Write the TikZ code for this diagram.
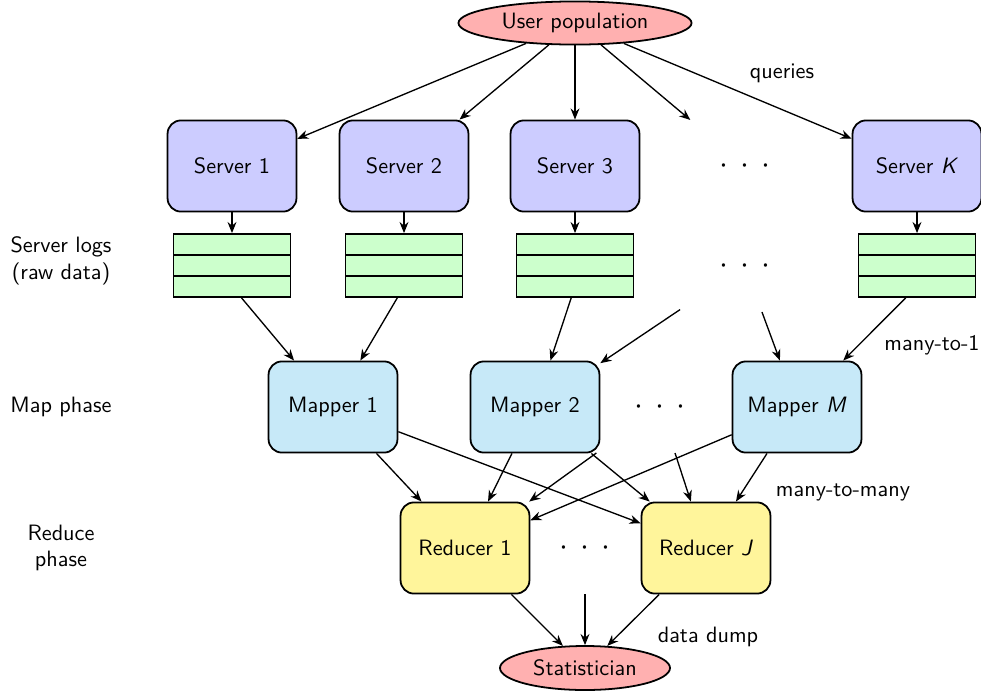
\documentclass[tikz,border=0pt]{standalone}
\usetikzlibrary{shapes.geometric,arrows.meta}
\definecolor{popfill}{RGB}{255,176,176}
\definecolor{srvfill}{RGB}{204,204,255}
\definecolor{logfill}{RGB}{204,255,204}
\definecolor{mapfill}{RGB}{199,233,248}
\definecolor{redfill}{RGB}{255,245,155}
\newcommand{\mydots}{{\Large$\cdot$\hspace{5.5pt}$\cdot$\hspace{5.5pt}$\cdot$}}
\begin{document}
\begin{tikzpicture}[x=0.45pt,y=-0.45pt,font=\sffamily,
  box/.style={rectangle,rounded corners=6pt,draw,line width=0.8pt,minimum width=58pt,minimum height=41pt,inner sep=0pt},
  srv/.style={box,fill=srvfill},
  mapbox/.style={box,fill=mapfill},
  redbox/.style={box,fill=redfill},
  ghost/.style={rectangle,minimum width=58pt,minimum height=41pt,inner sep=0pt},
  logrow/.style={rectangle,draw,line width=0.8pt,fill=logfill,minimum width=52.6pt,minimum height=9.45pt,inner sep=0pt},
  oval/.style={ellipse,draw,line width=0.8pt,fill=popfill,inner sep=0pt},
  arr/.style={-{Stealth[length=5pt,width=4pt]},line width=0.6pt},
  lbl/.style={align=center}]
\useasboundingbox (0,0) rectangle (981,690);
% top
\node[oval,minimum width=104.9pt,minimum height=19.4pt] (user) at (575,23) {User population};
% servers
\node[srv] (s1) at (232,166) {Server 1};
\node[srv] (s2) at (404,166) {Server 2};
\node[srv] (s3) at (575,166) {Server 3};
\node[ghost] (sd) at (745,166) {\mydots};
\node[srv] (sk) at (917,166) {Server \textit{K}};
% logs
\foreach \n/\x in {1/232,2/404,3/575,k/917}{
  \node[logrow] (l\n a) at (\x,244.5) {};
  \node[logrow] (l\n b) at (\x,265.5) {};
  \node[logrow] (l\n c) at (\x,286.5) {};
}
\node[ghost] (ld) at (745,266) {\mydots};
% mappers
\node[mapbox] (m1) at (333,407) {Mapper 1};
\node[mapbox] (m2) at (535,407) {Mapper 2};
\node[ghost] (md) at (660,407) {\mydots};
\node[mapbox] (mm) at (797,407) {Mapper \textit{M}};
% reducers
\node[redbox] (r1) at (465,548) {Reducer 1};
\node[ghost] (rd) at (585,548) {\mydots};
\node[redbox] (rj) at (706,548) {Reducer \textit{J}};
% bottom
\node[oval,minimum width=76.5pt,minimum height=19.8pt] (stat) at (585,668) {Statistician};
% labels
\node[lbl] (tq) at (782,73) {queries};
\node[lbl] (tlogs) at (61,261) {Server logs\\(raw data)};
\node[lbl] (tmap) at (61,407) {Map phase};
\node[lbl] (tred) at (61,548) {Reduce\\phase};
\node[lbl] (tm1) at (932,345) {many-to-1};
\node[lbl] (tmm) at (843,492) {many-to-many};
\node[lbl] (tdd) at (708,637) {data dump};
% user -> servers
\foreach \t in {s1,s2,s3,sd,sk}{\draw[arr] (user) -- (\t);}
% servers -> logs
\foreach \n in {1,2,3,k}{\draw[arr] (s\n) -- (l\n a);}
% logs -> mappers
\draw[arr] (l1c) -- (m1);
\draw[arr] (l2c) -- (m1);
\draw[arr] (l3c) -- (m2);
\draw[arr] (ld) -- (m2);
\draw[arr] (ld) -- (mm);
\draw[arr] (lkc) -- (mm);
% mappers -> reducers
\foreach \m in {m1,m2,md,mm}{
  \draw[arr] (\m) -- (r1);
  \draw[arr] (\m) -- (rj);
}
% reducers -> statistician
\foreach \r in {r1,rd,rj}{\draw[arr] (\r) -- (stat);}
\end{tikzpicture}
\end{document}
